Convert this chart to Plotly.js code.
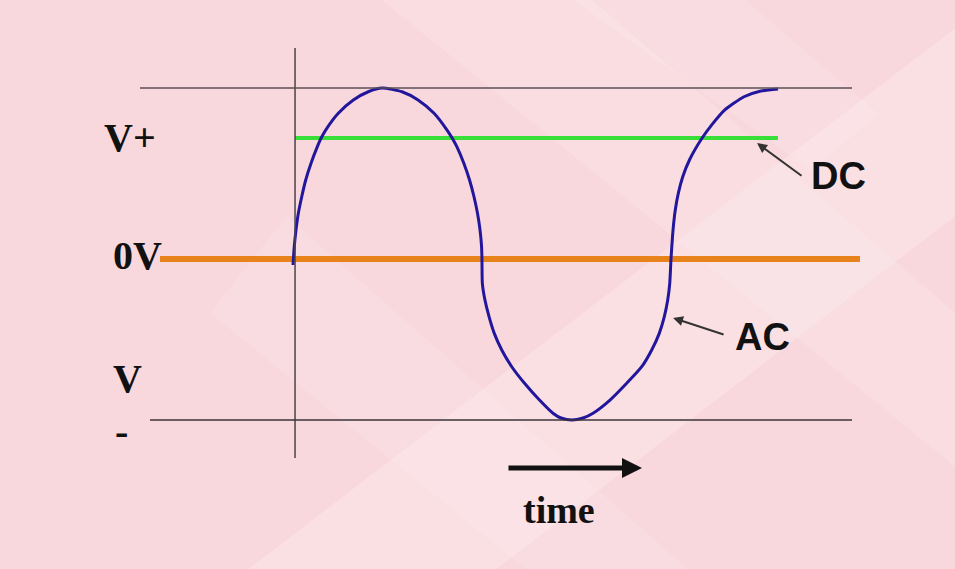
<!DOCTYPE html>
<html>
<head>
<meta charset="utf-8">
<script src="https://cdn.plot.ly/plotly-3.0.1.min.js"></script>
<style>
  html, body { margin: 0; padding: 0; background: #f9d8dd; }
  #chart { width: 955px; height: 569px; }
</style>
</head>
<body>
<div id="chart"></div>
<script>
// AC waveform samples (time in quarter-period units, voltage relative to peak)
const timeVals = [
  0, 0.013, 0.031, 0.055, 0.090, 0.131, 0.186, 0.251, 0.289, 0.337,
  0.467, 0.622, 0.776, 0.918, 1.124, 1.289, 1.454, 1.588, 1.642, 1.689,
  1.761, 1.820, 1.866, 1.902, 1.928, 1.944, 1.948,
  1.952, 1.979, 2.021, 2.075, 2.152, 2.255, 2.387, 2.541, 2.680, 2.763, 2.876,
  2.990, 3.093, 3.268, 3.440, 3.595, 3.698, 3.776, 3.828, 3.863, 3.884, 3.897,
  3.921, 3.941, 3.972, 4.018, 4.087, 4.216, 4.323, 4.449, 4.649, 4.804, 5.0];
const acVals = [
  -0.035, 0.072, 0.170, 0.267, 0.364, 0.462, 0.560, 0.657, 0.706, 0.754,
  0.852, 0.930, 0.978, 1.0, 0.978, 0.930, 0.852, 0.754, 0.706, 0.657,
  0.560, 0.462, 0.364, 0.267, 0.170, 0.072, 0,
  -0.142, -0.240, -0.337, -0.435, -0.532, -0.630, -0.727, -0.825, -0.902, -0.930, -0.942,
  -0.930, -0.902, -0.825, -0.727, -0.630, -0.532, -0.435, -0.337, -0.240, -0.142, 0,
  0.189, 0.287, 0.384, 0.481, 0.579, 0.706, 0.789, 0.871, 0.949, 0.980, 0.994];

// DC supply: constant level across the same time span
const dcTime = [0.021, 5.0];
const dcVals = [0.708, 0.708];

// Zero-volt reference
const zeroTime = [-1.371, 5.845];
const zeroVals = [0, 0];

// Peak guide levels (positive and negative)
const peakLevels = [1.0, -0.942];

// Side labels and their voltages
const levelLabels = ['V+', '0V', 'V', '-'];
const levelLabelVals = [0.713, 0.023, -0.696, -1.006];

const serif = 'Liberation Serif, Times New Roman, serif';
const sans = 'Liberation Sans, Arial, sans-serif';

const traces = [
  { x: zeroTime, y: zeroVals, mode: 'lines', line: { color: '#e8831c', width: 6 }, hoverinfo: 'skip' },
  { x: dcTime, y: dcVals, mode: 'lines', line: { color: '#38df38', width: 4 }, hoverinfo: 'skip' },
  { x: timeVals, y: acVals, mode: 'lines', line: { color: '#22169c', width: 3, shape: 'spline', smoothing: 0.6 }, hoverinfo: 'skip' }
];

const shapes = [
  // soft diagonal bands in the backdrop
  { type: 'path', xref: 'paper', yref: 'paper', layer: 'below', line: { width: 0 },
    fillcolor: 'rgba(255,255,255,0.20)', path: 'M 0.26 0 L 0.52 0 L 1 0.62 L 1 0.95 Z' },
  { type: 'path', xref: 'paper', yref: 'paper', layer: 'below', line: { width: 0 },
    fillcolor: 'rgba(255,255,255,0.14)', path: 'M 0.40 1 L 0.62 1 L 1 0.45 L 1 0.18 Z' },
  { type: 'path', xref: 'paper', yref: 'paper', layer: 'below', line: { width: 0 },
    fillcolor: 'rgba(255,255,255,0.12)', path: 'M 0.55 0 L 0.72 0 L 0.30 0.62 L 0.22 0.45 Z' },
  { type: 'path', xref: 'paper', yref: 'paper', layer: 'below', line: { width: 0 },
    fillcolor: 'rgba(255,255,255,0.12)', path: 'M 0.60 1 L 0.78 1 L 0.92 0.80 L 0.85 0.70 Z' },
  // vertical voltage axis
  { type: 'line', x0: 0.021, x1: 0.021, y0: 1.234, y1: -1.164, line: { color: '#4a4448', width: 1.5 } },
  // peak guides
  { type: 'line', x0: -1.577, x1: 5.763, y0: peakLevels[0], y1: peakLevels[0], line: { color: '#5a5055', width: 1.5 } },
  { type: 'line', x0: -1.474, x1: 5.763, y0: peakLevels[1], y1: peakLevels[1], line: { color: '#3a3438', width: 1.5 } }
];

const annotations = [];
levelLabels.forEach((t, i) => {
  annotations.push({
    x: i === 0 ? -1.969 : (i === 3 ? -1.856 : -1.876), y: levelLabelVals[i],
    xanchor: 'left', yanchor: 'middle', showarrow: false, text: '<b>' + t + '</b>',
    font: { family: serif, size: 40, color: '#111' }
  });
});
// pointer arrows
annotations.push({ x: 4.784, y: 0.678, ax: 5.258, ay: 0.480, axref: 'x', ayref: 'y',
  text: '', showarrow: true, arrowhead: 2, arrowsize: 1, arrowwidth: 2, arrowcolor: '#333' });
annotations.push({ x: 3.918, y: -0.345, ax: 4.454, ay: -0.444, axref: 'x', ayref: 'y',
  text: '', showarrow: true, arrowhead: 2, arrowsize: 1, arrowwidth: 2, arrowcolor: '#333' });
annotations.push({ x: 3.598, y: -1.222, ax: 2.206, ay: -1.222, axref: 'x', ayref: 'y',
  text: '', showarrow: true, arrowhead: 2, arrowsize: 0.8, arrowwidth: 5, arrowcolor: '#111' });
// labels
annotations.push({ x: 5.619, y: 0.485, showarrow: false, text: '<b>DC</b>',
  font: { family: sans, size: 38, color: '#111' } });
annotations.push({ x: 4.835, y: -0.456, showarrow: false, text: '<b>AC</b>',
  font: { family: sans, size: 38, color: '#111' } });
annotations.push({ x: 2.742, y: -1.468, showarrow: false, text: '<b>time</b>',
  font: { family: serif, size: 38, color: '#111' } });

const layout = {
  width: 955, height: 569,
  margin: { l: 0, r: 0, t: 0, b: 0 },
  paper_bgcolor: '#f9d8dd', plot_bgcolor: 'rgba(0,0,0,0)',
  showlegend: false,
  xaxis: { range: [-3.0206, 6.8247], visible: false, fixedrange: true },
  yaxis: { range: [-1.8129, 1.5146], visible: false, fixedrange: true },
  shapes: shapes,
  annotations: annotations
};

Plotly.newPlot('chart', traces, layout, { staticPlot: true, displayModeBar: false });
</script>
</body>
</html>
